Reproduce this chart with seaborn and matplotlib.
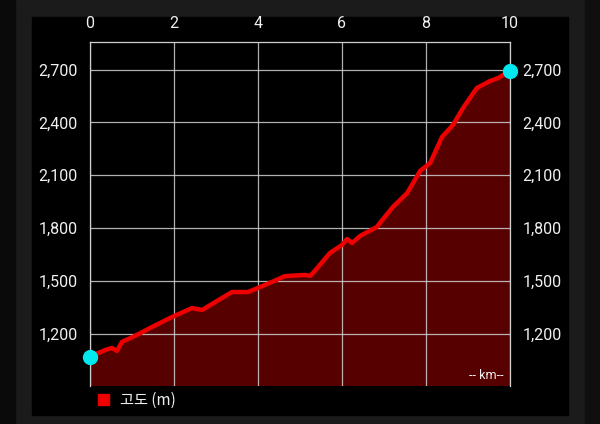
import matplotlib
matplotlib.use("Agg")
import matplotlib.pyplot as plt
import matplotlib.patches as mpatches
import matplotlib.ticker as mticker
import seaborn as sns
import pandas as pd

km = [0.0, 0.36, 0.52, 0.64, 0.76, 1.07, 1.48, 1.95, 2.43, 2.67, 2.98, 3.38,
      3.76, 4.0, 4.33, 4.64, 5.12, 5.24, 5.31, 5.71, 6.0, 6.12, 6.24, 6.43,
      6.83, 6.90, 7.21, 7.55, 7.86, 8.1, 8.38, 8.64, 8.88, 9.21, 9.52, 9.71, 10.0]
elev = [1072, 1109, 1121, 1104, 1155, 1189, 1240, 1296, 1347, 1336, 1381, 1438,
        1438, 1461, 1495, 1528, 1535, 1530, 1546, 1659, 1705, 1739, 1716, 1756,
        1807, 1829, 1920, 1999, 2125, 2170, 2317, 2385, 2481, 2595, 2634, 2651, 2691]
x_ticks = [0, 2, 4, 6, 8, 10]
y_ticks = [1200, 1500, 1800, 2100, 2400, 2700]
legend_label = "고도 (m)"
unit_label = "-- km--"

df = pd.DataFrame({"km": km, "elev": elev})

sns.set_theme(style="dark")
plt.rcParams["font.family"] = ["Roboto", "DejaVu Sans"]

fig = plt.figure(figsize=(6, 4.24), dpi=100)
fig.patch.set_facecolor("#1b1b1b")
W, H = 600, 424

def frect(x0, y0, x1, y1, color):
    fig.patches.append(mpatches.Rectangle((x0 / W, 1 - y1 / H), (x1 - x0) / W, (y1 - y0) / H,
                                          transform=fig.transFigure, color=color, zorder=-5))

frect(0, 0, 15, H, "#0a0a0a")
frect(585, 0, 600, H, "#0f0f0f")
frect(32, 17, 568, 415, "#000000")

ax = fig.add_axes([90 / W, 1 - 386 / H, 420 / W, (386 - 42) / H])
ax.set_zorder(1)
ax.set_facecolor("#000000")

ax.fill_between(df["km"], df["elev"], 0, color="#560000", zorder=1, linewidth=0)
sns.lineplot(data=df, x="km", y="elev", ax=ax, color="#ee0000", linewidth=3.2,
             zorder=4, estimator=None, sort=False)
ax.plot([km[0], km[-1]], [elev[0], elev[-1]], "o", color="#00e8f0", markersize=10,
        clip_on=False, zorder=6)

ax.set_xlim(0, 10)
ax.set_ylim(905, 2856)
ax.set_xticks(x_ticks)
ax.set_yticks(y_ticks)
ax.yaxis.set_major_formatter(mticker.FuncFormatter(lambda v, p: f"{int(v):,}"))
ax.xaxis.tick_top()
ax.tick_params(axis="x", which="both", length=0, pad=8, labelsize=11.5, colors="#f0f0f0",
               labeltop=True, labelbottom=False)
ax.tick_params(axis="y", which="both", length=0, pad=9, labelsize=11.5, colors="#f0f0f0",
               labelleft=True, labelright=True)
ax.set_xlabel("")
ax.set_ylabel("")
ax.grid(True, color="#d0d0d0", linewidth=0.9, alpha=0.85, zorder=3)
ax.set_axisbelow(False)
for sp in ["left", "right", "top"]:
    ax.spines[sp].set_visible(True)
    ax.spines[sp].set_color("#d0d0d0")
    ax.spines[sp].set_linewidth(0.9)
ax.spines["bottom"].set_visible(False)

ax.text(0.985, 0.012, unit_label, transform=ax.transAxes, ha="right", va="bottom",
        fontsize=9, color="#f0f0f0", zorder=7)

fig.patches.append(mpatches.Rectangle((98 / W, 1 - 405 / H), 11 / W, 11 / H,
                                      transform=fig.transFigure, color="#ee0000", zorder=2))
fig.text(120 / W, 1 - 400 / H, legend_label, ha="left", va="center", fontsize=11,
         color="#f0f0f0", family=["Noto Sans CJK KR", "DejaVu Sans"])

fig.savefig("out.png", dpi=100, facecolor=fig.get_facecolor())
